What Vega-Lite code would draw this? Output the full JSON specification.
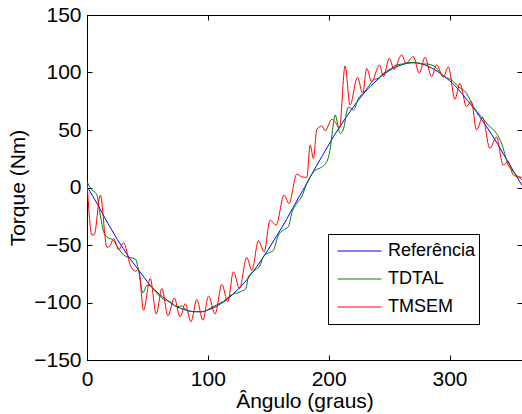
{
  "$schema": "https://vega.github.io/schema/vega-lite/v6.json",
  "width": 435,
  "height": 345,
  "autosize": {"type": "none"},
  "padding": {"left": 87, "top": 15, "right": 0, "bottom": 54},
  "background": "white",
  "config": {
    "font": "Liberation Sans",
    "view": {"stroke": "black", "strokeWidth": 1},
    "axis": {
      "grid": false,
      "labelFont": "Liberation Sans",
      "titleFont": "Liberation Sans",
      "labelFontSize": 21,
      "titleFontSize": 21,
      "titleFontWeight": "normal",
      "labelColor": "black",
      "titleColor": "black",
      "domainColor": "black",
      "tickColor": "black",
      "tickSize": -5,
      "domainWidth": 1,
      "tickWidth": 1
    },
    "legend": {
      "labelFont": "Liberation Sans",
      "labelFontSize": 18,
      "labelColor": "black"
    }
  },
  "data": {"values": [
    {"s":"Referência","a":0,"v":1},{"s":"Referência","a":5,"v":-8},{"s":"Referência","a":10,"v":-17},{"s":"Referência","a":15,"v":-27},{"s":"Referência","a":20,"v":-36},{"s":"Referência","a":25,"v":-45},{"s":"Referência","a":30,"v":-53},{"s":"Referência","a":35,"v":-61},{"s":"Referência","a":40,"v":-68},{"s":"Referência","a":45,"v":-75},{"s":"Referência","a":50,"v":-82},{"s":"Referência","a":55,"v":-88},{"s":"Referência","a":60,"v":-93},{"s":"Referência","a":65,"v":-97},{"s":"Referência","a":70,"v":-101},{"s":"Referência","a":75,"v":-104},{"s":"Referência","a":80,"v":-106},{"s":"Referência","a":85,"v":-107.5},{"s":"Referência","a":90,"v":-108},{"s":"Referência","a":95,"v":-108},{"s":"Referência","a":100,"v":-106.5},{"s":"Referência","a":105,"v":-104.5},{"s":"Referência","a":110,"v":-101.5},{"s":"Referência","a":115,"v":-98},{"s":"Referência","a":120,"v":-93.5},{"s":"Referência","a":125,"v":-88.5},{"s":"Referência","a":130,"v":-83},{"s":"Referência","a":135,"v":-76.5},{"s":"Referência","a":140,"v":-69.5},{"s":"Referência","a":145,"v":-62},{"s":"Referência","a":150,"v":-54},{"s":"Referência","a":155,"v":-45.5},{"s":"Referência","a":160,"v":-37},{"s":"Referência","a":165,"v":-28},{"s":"Referência","a":170,"v":-18.5},{"s":"Referência","a":175,"v":-9},{"s":"Referência","a":180,"v":0},{"s":"Referência","a":185,"v":9.5},{"s":"Referência","a":190,"v":19},{"s":"Referência","a":195,"v":28},{"s":"Referência","a":200,"v":37},{"s":"Referência","a":205,"v":46},{"s":"Referência","a":210,"v":54},{"s":"Referência","a":215,"v":62},{"s":"Referência","a":220,"v":69.5},{"s":"Referência","a":225,"v":76.5},{"s":"Referência","a":230,"v":83},{"s":"Referência","a":235,"v":88.5},{"s":"Referência","a":240,"v":93.5},{"s":"Referência","a":245,"v":98},{"s":"Referência","a":250,"v":101.5},{"s":"Referência","a":255,"v":104.5},{"s":"Referência","a":260,"v":106.5},{"s":"Referência","a":265,"v":108},{"s":"Referência","a":270,"v":108.5},{"s":"Referência","a":275,"v":108},{"s":"Referência","a":280,"v":106.5},{"s":"Referência","a":285,"v":104},{"s":"Referência","a":290,"v":101},{"s":"Referência","a":295,"v":97},{"s":"Referência","a":300,"v":93},{"s":"Referência","a":305,"v":88},{"s":"Referência","a":310,"v":82},{"s":"Referência","a":315,"v":75.5},{"s":"Referência","a":320,"v":69},{"s":"Referência","a":325,"v":61.5},{"s":"Referência","a":330,"v":54},{"s":"Referência","a":335,"v":46},{"s":"Referência","a":340,"v":37.5},{"s":"Referência","a":345,"v":28.5},{"s":"Referência","a":350,"v":19.5},{"s":"Referência","a":355,"v":10.5},{"s":"Referência","a":360,"v":2},
    {"s":"TDTAL","a":0,"v":5},{"s":"TDTAL","a":4,"v":-2},{"s":"TDTAL","a":8,"v":-6},{"s":"TDTAL","a":11,"v":-24},{"s":"TDTAL","a":13.8,"v":-38.5},{"s":"TDTAL","a":16.5,"v":-43},{"s":"TDTAL","a":22,"v":-46},{"s":"TDTAL","a":26,"v":-53},{"s":"TDTAL","a":31.7,"v":-59.7},{"s":"TDTAL","a":36,"v":-61},{"s":"TDTAL","a":40,"v":-62},{"s":"TDTAL","a":42.7,"v":-72},{"s":"TDTAL","a":46.3,"v":-91.6},{"s":"TDTAL","a":49.6,"v":-85},{"s":"TDTAL","a":53,"v":-86},{"s":"TDTAL","a":57.9,"v":-92},{"s":"TDTAL","a":63,"v":-97},{"s":"TDTAL","a":68.9,"v":-99.4},{"s":"TDTAL","a":74.4,"v":-103.8},{"s":"TDTAL","a":78,"v":-103},{"s":"TDTAL","a":82.6,"v":-106.7},{"s":"TDTAL","a":88.2,"v":-108},{"s":"TDTAL","a":96.4,"v":-108},{"s":"TDTAL","a":101.9,"v":-105},{"s":"TDTAL","a":107.4,"v":-102},{"s":"TDTAL","a":113,"v":-99},{"s":"TDTAL","a":118.5,"v":-94},{"s":"TDTAL","a":126.7,"v":-90.7},{"s":"TDTAL","a":131.5,"v":-88},{"s":"TDTAL","a":133.6,"v":-77.7},{"s":"TDTAL","a":139,"v":-72},{"s":"TDTAL","a":143.3,"v":-67.5},{"s":"TDTAL","a":146,"v":-60},{"s":"TDTAL","a":150,"v":-57},{"s":"TDTAL","a":154,"v":-55},{"s":"TDTAL","a":158.4,"v":-41.4},{"s":"TDTAL","a":162.5,"v":-37},{"s":"TDTAL","a":166.7,"v":-34},{"s":"TDTAL","a":169.4,"v":-22.6},{"s":"TDTAL","a":173.6,"v":-14},{"s":"TDTAL","a":177.7,"v":-8},{"s":"TDTAL","a":181.9,"v":3.6},{"s":"TDTAL","a":188.8,"v":15},{"s":"TDTAL","a":193,"v":17},{"s":"TDTAL","a":198.4,"v":22.4},{"s":"TDTAL","a":201,"v":32},{"s":"TDTAL","a":204,"v":56},{"s":"TDTAL","a":205.3,"v":63},{"s":"TDTAL","a":209.5,"v":47},{"s":"TDTAL","a":212,"v":50},{"s":"TDTAL","a":216.3,"v":70},{"s":"TDTAL","a":220.5,"v":67.4},{"s":"TDTAL","a":224.6,"v":77.5},{"s":"TDTAL","a":228.7,"v":82},{"s":"TDTAL","a":232.9,"v":87.7},{"s":"TDTAL","a":237,"v":93.5},{"s":"TDTAL","a":241,"v":95},{"s":"TDTAL","a":245.3,"v":99.3},{"s":"TDTAL","a":250.8,"v":103},{"s":"TDTAL","a":256.3,"v":106.6},{"s":"TDTAL","a":261.8,"v":107.5},{"s":"TDTAL","a":267.3,"v":108.6},{"s":"TDTAL","a":272.8,"v":108.6},{"s":"TDTAL","a":277,"v":107.4},{"s":"TDTAL","a":281.1,"v":107.4},{"s":"TDTAL","a":288,"v":105},{"s":"TDTAL","a":292,"v":100},{"s":"TDTAL","a":296.2,"v":96.4},{"s":"TDTAL","a":301.7,"v":93.5},{"s":"TDTAL","a":307.3,"v":87.7},{"s":"TDTAL","a":314.1,"v":82},{"s":"TDTAL","a":319.7,"v":70.3},{"s":"TDTAL","a":325.2,"v":63},{"s":"TDTAL","a":332,"v":54.3},{"s":"TDTAL","a":338.9,"v":47},{"s":"TDTAL","a":343.1,"v":38.4},{"s":"TDTAL","a":348.6,"v":19.6},{"s":"TDTAL","a":352.7,"v":13.8},{"s":"TDTAL","a":356.8,"v":9.4},{"s":"TDTAL","a":360,"v":6.5},
    {"s":"TMSEM","a":0,"v":5},{"s":"TMSEM","a":4.1,"v":-41.4},{"s":"TMSEM","a":6,"v":-41},{"s":"TMSEM","a":11,"v":-6.6},{"s":"TMSEM","a":16.5,"v":-52},{"s":"TMSEM","a":19,"v":-51},{"s":"TMSEM","a":22,"v":-44.3},{"s":"TMSEM","a":26.2,"v":-54},{"s":"TMSEM","a":30.3,"v":-48},{"s":"TMSEM","a":35.8,"v":-67.5},{"s":"TMSEM","a":40,"v":-72.7},{"s":"TMSEM","a":42.7,"v":-71.3},{"s":"TMSEM","a":46.8,"v":-106.7},{"s":"TMSEM","a":52.3,"v":-79},{"s":"TMSEM","a":57.3,"v":-110},{"s":"TMSEM","a":62,"v":-87.8},{"s":"TMSEM","a":67,"v":-111.6},{"s":"TMSEM","a":72.2,"v":-96},{"s":"TMSEM","a":77.1,"v":-112.5},{"s":"TMSEM","a":81.3,"v":-101},{"s":"TMSEM","a":86,"v":-116.8},{"s":"TMSEM","a":90.9,"v":-97.4},{"s":"TMSEM","a":95.9,"v":-115.4},{"s":"TMSEM","a":100.6,"v":-94.5},{"s":"TMSEM","a":106,"v":-110},{"s":"TMSEM","a":111.6,"v":-84.3},{"s":"TMSEM","a":116.5,"v":-99.4},{"s":"TMSEM","a":121.2,"v":-73.3},{"s":"TMSEM","a":126.2,"v":-87.8},{"s":"TMSEM","a":132.2,"v":-60.8},{"s":"TMSEM","a":136.4,"v":-72},{"s":"TMSEM","a":141.9,"v":-46.3},{"s":"TMSEM","a":146.6,"v":-56},{"s":"TMSEM","a":151.5,"v":-28.4},{"s":"TMSEM","a":156.5,"v":-32.7},{"s":"TMSEM","a":163.1,"v":-6.6},{"s":"TMSEM","a":167.2,"v":-14},{"s":"TMSEM","a":173.6,"v":11.7},{"s":"TMSEM","a":177.7,"v":9.3},{"s":"TMSEM","a":181.9,"v":8.8},{"s":"TMSEM","a":184.7,"v":36.9},{"s":"TMSEM","a":187.4,"v":25.3},{"s":"TMSEM","a":190.2,"v":50.6},{"s":"TMSEM","a":194.3,"v":53.5},{"s":"TMSEM","a":197.1,"v":49.4},{"s":"TMSEM","a":202.6,"v":59.3},{"s":"TMSEM","a":205.3,"v":57.2},{"s":"TMSEM","a":208.9,"v":51.5},{"s":"TMSEM","a":213.6,"v":105.7},{"s":"TMSEM","a":217.7,"v":71.7},{"s":"TMSEM","a":223.8,"v":95.8},{"s":"TMSEM","a":228.2,"v":82},{"s":"TMSEM","a":231.5,"v":103.6},{"s":"TMSEM","a":235.6,"v":92},{"s":"TMSEM","a":242,"v":106.6},{"s":"TMSEM","a":245.3,"v":96.4},{"s":"TMSEM","a":250.2,"v":112.4},{"s":"TMSEM","a":254.1,"v":102.8},{"s":"TMSEM","a":260.4,"v":115.3},{"s":"TMSEM","a":264,"v":108},{"s":"TMSEM","a":270,"v":113.8},{"s":"TMSEM","a":275,"v":99.3},{"s":"TMSEM","a":279.7,"v":113.2},{"s":"TMSEM","a":285.2,"v":96.4},{"s":"TMSEM","a":289.3,"v":106.6},{"s":"TMSEM","a":294.9,"v":95.8},{"s":"TMSEM","a":299,"v":105},{"s":"TMSEM","a":304.5,"v":76.7},{"s":"TMSEM","a":308.6,"v":90.6},{"s":"TMSEM","a":314.1,"v":70.3},{"s":"TMSEM","a":318,"v":75},{"s":"TMSEM","a":322.4,"v":50},{"s":"TMSEM","a":327.4,"v":61},{"s":"TMSEM","a":333.4,"v":34},{"s":"TMSEM","a":338.9,"v":44},{"s":"TMSEM","a":344.4,"v":19.6},{"s":"TMSEM","a":348.6,"v":22.5},{"s":"TMSEM","a":352.7,"v":11},{"s":"TMSEM","a":356.8,"v":9.4},{"s":"TMSEM","a":360,"v":8.8}
  ]},
  "layer": [
    {
      "mark": {"type": "line", "strokeWidth": 1, "clip": true, "interpolate": "monotone"},
      "encoding": {
        "x": {"field": "a", "type": "quantitative", "scale": {"domain": [0, 360], "nice": false, "zero": false},
              "axis": {"orient": "bottom", "values": [0, 100, 200, 300], "title": "Ângulo (graus)", "labelPadding": 13, "titlePadding": 1, "labelFlush": false}},
        "y": {"field": "v", "type": "quantitative", "scale": {"domain": [-150, 150], "nice": false},
              "axis": {"orient": "left", "values": [-150, -100, -50, 0, 50, 100, 150], "title": "Torque (Nm)", "labelPadding": 11, "titlePadding": 5}},
        "color": {"field": "s", "type": "nominal",
                  "scale": {"domain": ["Referência", "TDTAL", "TMSEM"], "range": ["#0000ff", "#008000", "#ff0000"]},
                  "legend": {"title": null, "orient": "none", "legendX": 241, "legendY": 219,
                             "strokeColor": "black", "fillColor": "white", "padding": 3,
                             "symbolType": "stroke", "symbolSize": 1936, "symbolStrokeWidth": 1,
                             "symbolOffset": 6, "clipHeight": 28, "rowPadding": 0, "labelOffset": 6,
                             "labelExpr": "datum.label + '\u00a0\u00a0\u00a0\u00a0'"}}
      }
    },
    {
      "mark": {"type": "point", "opacity": 0},
      "encoding": {
        "x": {"field": "a", "type": "quantitative",
              "axis": {"orient": "top", "values": [0, 100, 200, 300], "labels": false, "title": null}},
        "y": {"field": "v", "type": "quantitative",
              "axis": {"orient": "right", "values": [-150, -100, -50, 0, 50, 100, 150], "labels": false, "title": null}}
      }
    }
  ],
  "resolve": {"axis": {"x": "independent", "y": "independent"}}
}
